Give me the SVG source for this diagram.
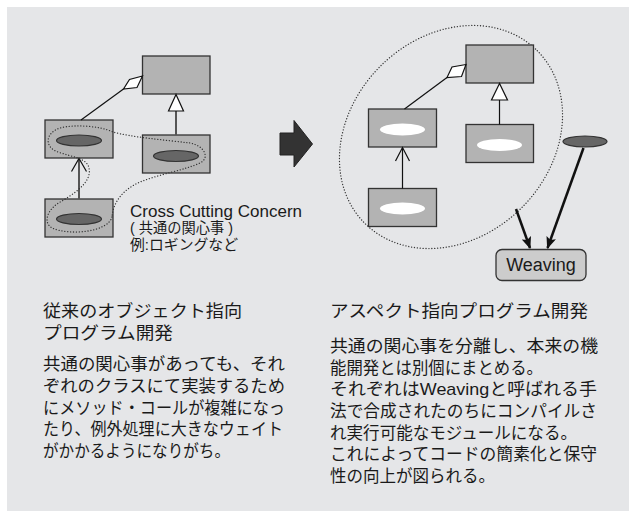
<svg xmlns="http://www.w3.org/2000/svg" width="629" height="511" viewBox="0 0 629 511">
<defs>
<style>
.box{fill:#b3b3b3;stroke:#333;stroke-width:1.3}
.dk{fill:#666;stroke:#333;stroke-width:1.2}
.wh{fill:#fff;stroke:none}
.ln{fill:none;stroke:#111;stroke-width:1.2}
.gl{fill:none;stroke:#555;stroke-width:2}
.dot{fill:none;stroke:#333;stroke-width:1.3;stroke-dasharray:0.1 2.8;stroke-linecap:round}
.t{font-family:"Liberation Sans","Noto Sans CJK JP",sans-serif;fill:#1a1a1a}
.j{font-size:17px}
</style>
<marker id="ah" viewBox="0 0 12 10" refX="11" refY="5" markerWidth="12" markerHeight="10" markerUnits="userSpaceOnUse" orient="auto">
<path d="M0,0 L12,5 L0,10 L2.5,5 z" fill="#111"/>
</marker>
</defs>
<rect x="0" y="0" width="629" height="511" fill="#fff"/>
<rect x="7" y="7" width="622" height="504" fill="#e5e6e8"/>

<g id="left-diagram">
<g id="l-top"><rect class="box" x="142.5" y="56" width="67.5" height="38"/></g>
<g id="l-mid"><rect class="box" x="45" y="120" width="68" height="38"/><ellipse class="dk" cx="79" cy="140.5" rx="22.5" ry="5.5"/></g>
<g id="l-right"><rect class="box" x="142.5" y="135" width="67.5" height="38"/><ellipse class="dk" cx="176" cy="156" rx="22.5" ry="5.5"/></g>
<g id="l-bottom"><rect class="box" x="45" y="199" width="68" height="38"/><ellipse class="dk" cx="79" cy="219" rx="22.5" ry="5.5"/></g>
</g>

<g id="left-connectors">
<line class="ln" x1="81" y1="120" x2="123.5" y2="89"/>
<polygon points="142.5,76 129.5,79.5 123.5,89 137,87.5" fill="#fff" stroke="#111" stroke-width="1.2"/>
<line class="gl" x1="176" y1="111" x2="176" y2="135"/>
<polygon points="176,94.5 168.5,111 183.5,111" fill="#fff" stroke="#111" stroke-width="1.2"/>
<line class="gl" x1="79" y1="199" x2="79" y2="159"/>
<polyline points="71.5,171.5 79,158.5 86.5,171.5" fill="none" stroke="#111" stroke-width="1.2"/>
<path class="dot" d="M112,217 C108,232 70,236 52,228 C42,222 48,208 62,201 C75,193 92,182 89,168 C87,158 72,157 58,152 C44,147 45,133 60,128 C75,124 100,126 113,132 C130,137 165,140 190,143 C205,146 210,158 200,163 C185,170 160,174 140,182 C122,190 113,203 112,217 Z"/>
</g>

<g id="ccc-label" class="t">
<text x="130" y="216.5" font-size="16.5" textLength="172" lengthAdjust="spacingAndGlyphs">Cross Cutting Concern</text>
<text x="130" y="233" font-size="14.5" textLength="103" lengthAdjust="spacingAndGlyphs">( 共通の関心事 )</text>
<text x="130" y="250" font-size="14.5" textLength="108" lengthAdjust="spacingAndGlyphs">例:ロギングなど</text>
</g>

<g id="big-arrow">
<path d="M280,133 L294,133 L294,120.5 L312.5,144 L294,167 L294,155 L280,155 Z" fill="#333" stroke="#222" stroke-width="1"/>
</g>

<g id="right-diagram">
<ellipse class="dot" cx="451" cy="137" rx="122" ry="100" transform="rotate(-45 451 137)"/>
<g id="r-top"><rect class="box" x="466" y="45" width="67.5" height="38"/></g>
<g id="r-mid"><rect class="box" x="368.5" y="109" width="68" height="38"/><ellipse class="wh" cx="402.5" cy="129.5" rx="22.5" ry="6"/></g>
<g id="r-right"><rect class="box" x="466" y="124.5" width="67.5" height="38"/><ellipse class="wh" cx="499.5" cy="145" rx="22.5" ry="6"/></g>
<g id="r-bottom"><rect class="box" x="368.5" y="188.5" width="68" height="38"/><ellipse class="wh" cx="402.5" cy="208.5" rx="22.5" ry="6"/></g>
<g id="aspect"><ellipse class="dk" cx="585" cy="141.5" rx="22" ry="5.5"/></g>
<g id="weaving"><rect x="496" y="249.5" width="90" height="31" rx="6" fill="#ccc" stroke="#333" stroke-width="1.3"/>
<text class="t" x="541" y="271" font-size="18" text-anchor="middle">Weaving</text></g>
</g>

<g id="right-connectors">
<line class="ln" x1="404.5" y1="109" x2="447" y2="77.5"/>
<polygon points="466,64.5 452,67 447,77.5 461.5,76.5" fill="#fff" stroke="#111" stroke-width="1.2"/>
<line class="ln" x1="499.5" y1="100" x2="499.5" y2="124.5"/>
<polygon points="499.5,83.5 491.5,100 507.5,100" fill="#fff" stroke="#111" stroke-width="1.2"/>
<line class="ln" x1="402.5" y1="188.5" x2="402.5" y2="148"/>
<polyline points="395.5,161 402.5,147.5 409.5,161" fill="none" stroke="#111" stroke-width="1.2"/>
<line x1="516" y1="209" x2="530" y2="248" stroke="#111" stroke-width="2.5" marker-end="url(#ah)"/>
<line x1="583.5" y1="148" x2="547.5" y2="248" stroke="#111" stroke-width="2.5" marker-end="url(#ah)"/>
</g>

<g id="left-text" class="t j">
<text x="43" y="317" textLength="199" lengthAdjust="spacingAndGlyphs">従来のオブジェクト指向</text>
<text x="43" y="339" textLength="130" lengthAdjust="spacingAndGlyphs">プログラム開発</text>
<text x="43" y="370" textLength="242" lengthAdjust="spacingAndGlyphs">共通の関心事があっても、それ</text>
<text x="43" y="392" textLength="242" lengthAdjust="spacingAndGlyphs">ぞれのクラスにて実装するため</text>
<text x="43" y="413.5" textLength="242" lengthAdjust="spacingAndGlyphs">にメソッド・コールが複雑になっ</text>
<text x="43" y="435" textLength="240" lengthAdjust="spacingAndGlyphs">たり、例外処理に大きなウェイト</text>
<text x="43" y="457" textLength="187" lengthAdjust="spacingAndGlyphs">がかかるようになりがち。</text>
</g>

<g id="right-text" class="t j">
<text x="330" y="317" textLength="258" lengthAdjust="spacingAndGlyphs">アスペクト指向プログラム開発</text>
<text x="330" y="352" textLength="268" lengthAdjust="spacingAndGlyphs">共通の関心事を分離し、本来の機</text>
<text x="330" y="373.7" textLength="213" lengthAdjust="spacingAndGlyphs">能開発とは別個にまとめる。</text>
<text x="330" y="395.4" textLength="267" lengthAdjust="spacingAndGlyphs">それぞれはWeavingと呼ばれる手</text>
<text x="330" y="417" textLength="267" lengthAdjust="spacingAndGlyphs">法で合成されたのちにコンパイルさ</text>
<text x="330" y="438.7" textLength="247" lengthAdjust="spacingAndGlyphs">れ実行可能なモジュールになる。</text>
<text x="330" y="460.4" textLength="267" lengthAdjust="spacingAndGlyphs">これによってコードの簡素化と保守</text>
<text x="330" y="482" textLength="165" lengthAdjust="spacingAndGlyphs">性の向上が図られる。</text>
</g>
</svg>
